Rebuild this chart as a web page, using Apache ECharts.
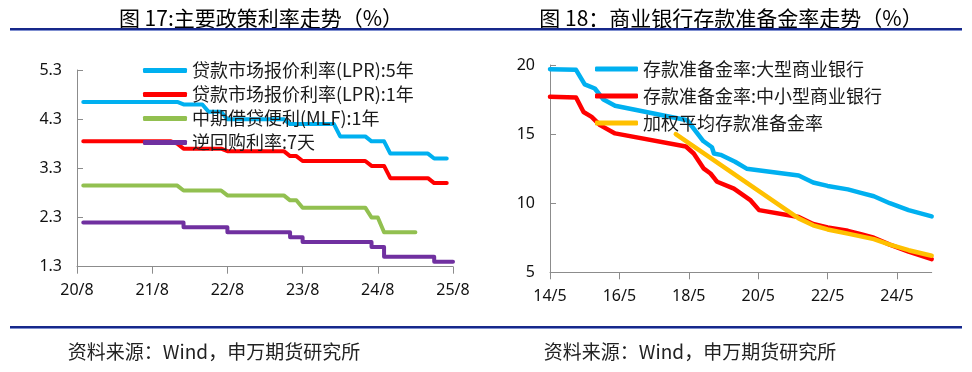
<!DOCTYPE html>
<html><head><meta charset="utf-8">
<script src="https://cdn.jsdelivr.net/npm/echarts@6/dist/echarts.min.js"></script>
<style>html,body{margin:0;padding:0;background:#fff}#c{width:972px;height:372px}</style>
</head><body><div id="c"></div>
<script>
// ---------- Left chart: policy rates (monthly, first observation 2020-09) ----------
const leftTickLabels = ['20/8','21/8','22/8','23/8','24/8','25/8'];
const leftNames = ['贷款市场报价利率(LPR):5年','贷款市场报价利率(LPR):1年','中期借贷便利(MLF):1年','逆回购利率:7天'];
const lpr5y = [
 4.65,4.65,4.65,4.65,4.65,4.65,4.65,4.65,4.65,4.65,4.65,4.65,4.65,4.65,4.65,4.65,
 4.60,4.60,4.60,4.60,
 4.45,4.45,4.45,
 4.30,4.30,4.30,4.30,4.30,4.30,4.30,4.30,4.30,4.30,
 4.20,4.20,4.20,4.20,4.20,4.20,4.20,4.20,
 3.95,3.95,3.95,3.95,3.95,
 3.85,3.85,3.85,
 3.60,3.60,3.60,3.60,3.60,3.60,3.60,
 3.50,3.50,3.50];
const lpr1y = [
 3.85,3.85,3.85,3.85,3.85,3.85,3.85,3.85,3.85,3.85,3.85,3.85,3.85,3.85,3.85,
 3.80,
 3.70,3.70,3.70,3.70,3.70,3.70,3.70,
 3.65,3.65,3.65,3.65,3.65,3.65,3.65,3.65,3.65,3.65,
 3.55,3.55,
 3.45,3.45,3.45,3.45,3.45,3.45,3.45,3.45,3.45,3.45,3.45,
 3.35,3.35,3.35,
 3.10,3.10,3.10,3.10,3.10,3.10,3.10,
 3.00,3.00,3.00];
const mlf1y = [
 2.95,2.95,2.95,2.95,2.95,2.95,2.95,2.95,2.95,2.95,2.95,2.95,2.95,2.95,2.95,2.95,
 2.85,2.85,2.85,2.85,2.85,2.85,2.85,
 2.75,2.75,2.75,2.75,2.75,2.75,2.75,2.75,2.75,2.75,
 2.65,2.65,
 2.50,2.50,2.50,2.50,2.50,2.50,2.50,2.50,2.50,2.50,2.50,
 2.30,2.30,
 2.00,2.00,2.00,2.00,2.00,2.00];
const repo7d = [
 2.20,2.20,2.20,2.20,2.20,2.20,2.20,2.20,2.20,2.20,2.20,2.20,2.20,2.20,2.20,2.20,
 2.10,2.10,2.10,2.10,2.10,2.10,2.10,
 2.00,2.00,2.00,2.00,2.00,2.00,2.00,2.00,2.00,2.00,
 1.90,1.90,
 1.80,1.80,1.80,1.80,1.80,1.80,1.80,1.80,1.80,1.80,1.80,
 1.70,1.70,
 1.50,1.50,1.50,1.50,1.50,1.50,1.50,1.50,
 1.40,1.40,1.40,1.40];

// ---------- Right chart: required reserve ratio (change points) ----------
const rightTickLabels = ['14/5','16/5','18/5','20/5','22/5','24/5'];
const rightNames = ['存款准备金率:大型商业银行','存款准备金率:中小型商业银行','加权平均存款准备金率'];
const largeDates = ['2014-05','2015-02','2015-05','2015-08-16','2015-11-16','2016-03-16','2018-04-16','2018-10','2019-01','2019-01-22','2019-04','2019-09','2020-01','2021-07','2021-12','2022-05','2022-12','2023-04-16','2023-09','2024-02-16','2024-09','2025-05'];
const largeVals  = [19.7,19.65,18.6,18.3,17.5,17.05,16.0,14.5,14.05,13.6,13.5,13.0,12.5,12.0,11.5,11.25,11.0,10.75,10.5,10.0,9.5,9.05];
const smallDates = ['2014-05','2015-02','2015-04-19','2015-07-13','2015-10-10','2016-03-16','2018-04','2018-06-22','2018-10-07','2018-12-16','2019-02-07','2019-02-25','2019-08-19','2020-02-13','2020-05-10','2021-07','2021-12','2022-05','2022-12','2023-04-16','2023-09','2024-02-16','2024-09','2025-05'];
const smallVals  = [17.7,17.65,16.6,16.25,15.65,15.05,14.1,13.6,12.5,12.15,11.7,11.55,11.05,10.2,9.5,9.0,8.5,8.25,8.0,7.75,7.5,7.0,6.5,5.95];
const avgDates = ['2017-12-16','2021-07','2021-12','2022-05','2022-12','2023-04-16','2023-09','2024-02-16','2024-09','2025-05'];
const avgVals  = [15.0,8.9,8.4,8.1,7.8,7.6,7.4,7.0,6.6,6.2];

const titleLeft = '图 17:主要政策利率走势（%）';
const titleRight = '图 18：商业银行存款准备金率走势（%）';
const sourceText = '资料来源：Wind，申万期货研究所';

// ---------- helpers ----------
function monthsFrom(y0, m0, s) {
  const p = s.split('-').map(Number);
  return (p[0]-y0)*12 + (p[1]-m0) + ((p[2]||1)-1)/30;
}
function monthly(vals, y, m) {
  return vals.map((v,i) => {
    const t = m-1+i;
    const s = (y+Math.floor(t/12)) + '-' + (t%12+1);
    return [monthsFrom(2020, 8, s), v];
  });
}
function pairs(dates, vals) { return dates.map((d,i) => [monthsFrom(2014, 5, d), vals[i]]); }

const axisColor = '#8c8c8c';
const labelFont = {color:'#111', fontSize:16, fontFamily:'Noto Sans'};
const legendText = {color:'#1a1a1a', fontSize:18, fontFamily:'Noto Sans CJK SC', lineHeight:18};
const COL = {blue:'#00B0F0', red:'#FF0000', green:'#92C050', purple:'#7030A0', orange:'#FFC000'};

function lineSeries(name, data, color, xi, yi, w, extra) {
  return Object.assign({
    type:'line', name, data, xAxisIndex:xi, yAxisIndex:yi, showSymbol:false, symbol:'none',
    lineStyle:{color, width:w, cap:'round', join:'round'}, itemStyle:{color}, animation:false
  }, extra||{});
}

const chart = echarts.init(document.getElementById('c'), null, {renderer:'canvas'});
chart.setOption({
  backgroundColor:'#fff',
  animation:false,
  grid:[
    {left:77, top:70, width:376, height:196.7},
    {left:550, top:65, width:381.7, height:207.3}
  ],
  xAxis:[
    {type:'value', gridIndex:0, min:0, max:60, interval:12,
     axisLine:{lineStyle:{color:axisColor}}, axisTick:{show:true, length:7, lineStyle:{color:axisColor}},
     splitLine:{show:false},
     axisLabel:Object.assign({margin:16, formatter:v => leftTickLabels[Math.round(v/12)]}, labelFont)},
    {type:'value', gridIndex:1, min:0, max:132, interval:24,
     axisLine:{lineStyle:{color:axisColor}},
     axisTick:{show:true, length:7, lineStyle:{color:axisColor}, customValues:[0,24,48,72,96,120]},
     splitLine:{show:false},
     axisLabel:Object.assign({margin:16, customValues:[0,24,48,72,96,120], formatter:v => rightTickLabels[Math.round(v/24)]}, labelFont)}
  ],
  yAxis:[
    {type:'value', gridIndex:0, min:1.3, max:5.3, interval:1,
     axisLine:{show:true, lineStyle:{color:axisColor}}, axisTick:{show:true, inside:true, length:6, lineStyle:{color:axisColor}},
     splitLine:{show:false},
     axisLabel:Object.assign({margin:15, formatter:v => v.toFixed(1)}, labelFont)},
    {type:'value', gridIndex:1, min:5, max:20, interval:5,
     axisLine:{show:true, lineStyle:{color:axisColor}}, axisTick:{show:true, inside:true, length:6, lineStyle:{color:axisColor}},
     splitLine:{show:false},
     axisLabel:Object.assign({margin:15}, labelFont)}
  ],
  legend:[
    {data:leftNames, orient:'vertical', left:138, top:56.5, itemWidth:44, itemHeight:5, itemGap:6,
     icon:'roundRect', textStyle:legendText, selectedMode:false},
    {data:rightNames, orient:'vertical', left:590, top:55, itemWidth:43, itemHeight:5, itemGap:9,
     icon:'roundRect', textStyle:legendText, selectedMode:false}
  ],
  series:[
    lineSeries(leftNames[0], monthly(lpr5y, 2020, 9), COL.blue, 0, 0, 4),
    lineSeries(leftNames[1], monthly(lpr1y, 2020, 9), COL.red, 0, 0, 4),
    lineSeries(leftNames[2], monthly(mlf1y, 2020, 9), COL.green, 0, 0, 4),
    lineSeries(leftNames[3], monthly(repo7d, 2020, 9), COL.purple, 0, 0, 4, {step:'end'}),
    lineSeries(rightNames[0], pairs(largeDates, largeVals), COL.blue, 1, 1, 4.5),
    lineSeries(rightNames[1], pairs(smallDates, smallVals), COL.red, 1, 1, 4.5),
    lineSeries(rightNames[2], pairs(avgDates, avgVals), COL.orange, 1, 1, 4.5)
  ],
  graphic:[
    {type:'text', x:261, y:18, style:{text:titleLeft, fill:'#000', font:'21px "Noto Sans CJK SC"', textAlign:'center', textVerticalAlign:'middle'}},
    {type:'text', x:731, y:18, style:{text:titleRight, fill:'#000', font:'21px "Noto Sans CJK SC"', textAlign:'center', textVerticalAlign:'middle'}},
    {type:'rect', shape:{x:10, y:28, width:952, height:2}, style:{fill:'#16288a'}},
    {type:'rect', shape:{x:10, y:30, width:952, height:1}, style:{fill:'#7f8fd0'}},
    {type:'rect', shape:{x:10, y:326, width:952, height:2}, style:{fill:'#16288a'}},
    {type:'rect', shape:{x:10, y:328, width:952, height:1}, style:{fill:'#7f8fd0'}},
    {type:'text', x:214, y:352, style:{text:sourceText, fill:'#222', font:'19px "Noto Sans CJK SC"', textAlign:'center', textVerticalAlign:'middle'}},
    {type:'text', x:690, y:352, style:{text:sourceText, fill:'#222', font:'19px "Noto Sans CJK SC"', textAlign:'center', textVerticalAlign:'middle'}}
  ]
});
</script></body></html>
